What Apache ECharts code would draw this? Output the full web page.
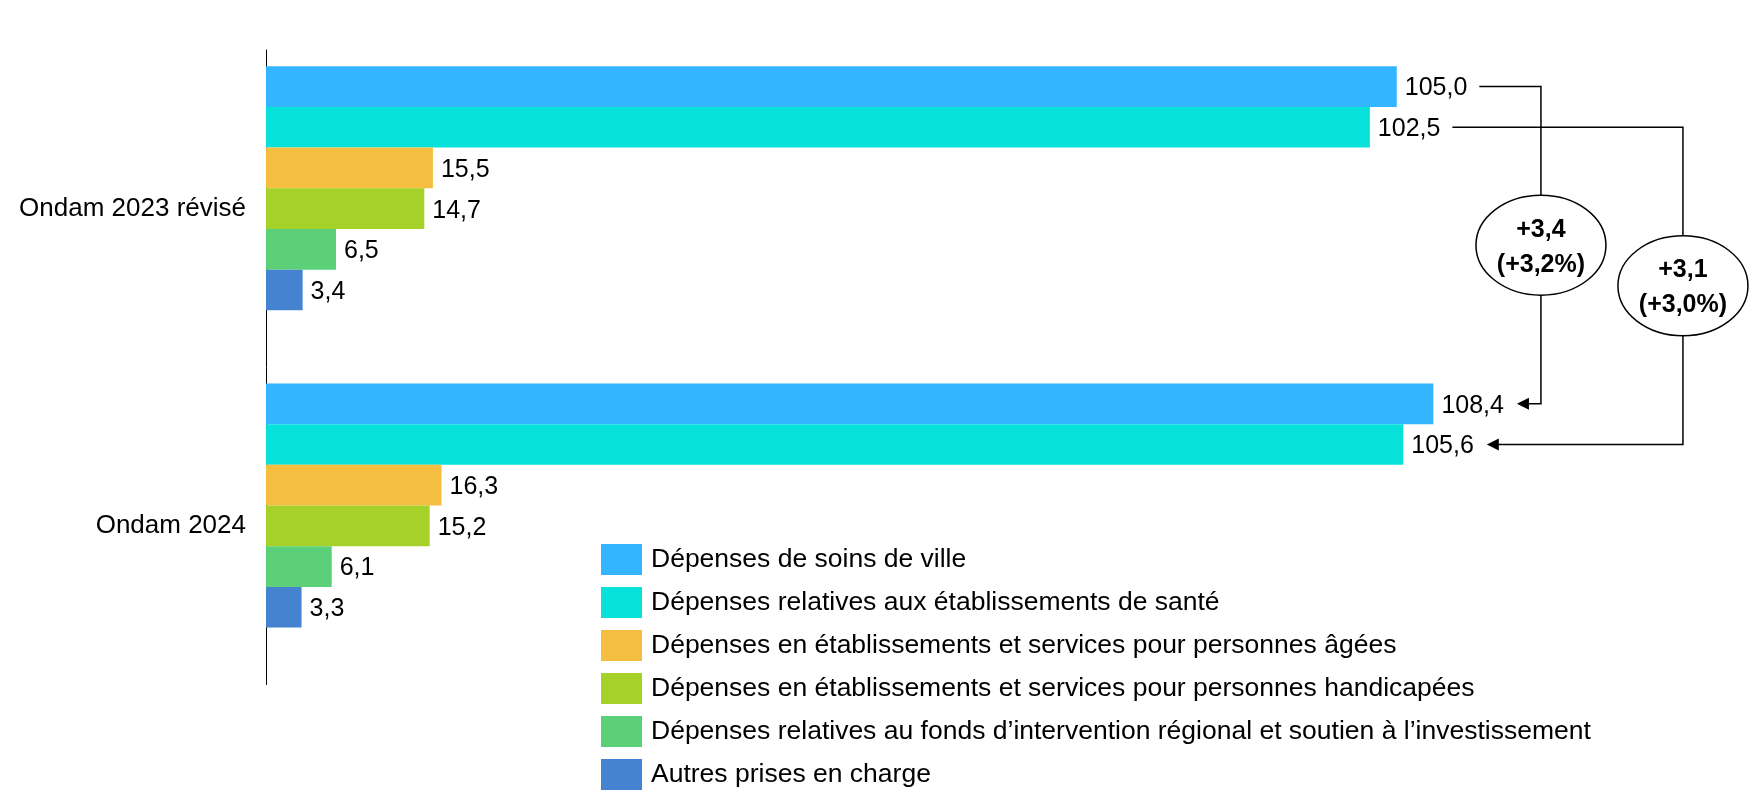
<!DOCTYPE html>
<html>
<head>
<meta charset="utf-8">
<script src="https://cdn.jsdelivr.net/npm/echarts@6/dist/echarts.min.js"></script>
<style>
html,body{margin:0;padding:0;background:#fff;}
#chart{width:1751px;height:812px;}
</style>
</head>
<body>
<div id="chart"></div>
<script>
const categories = ['Ondam 2023 révisé', 'Ondam 2024'];
const seriesNames = [
  'Dépenses de soins de ville',
  'Dépenses relatives aux établissements de santé',
  'Dépenses en établissements et services pour personnes âgées',
  'Dépenses en établissements et services pour personnes handicapées',
  'Dépenses relatives au fonds d’intervention régional et soutien à l’investissement',
  'Autres prises en charge'
];
const soinsVille = [105.0, 108.4];
const etabSante = [102.5, 105.6];
const personnesAgees = [15.5, 16.3];
const personnesHandicapees = [14.7, 15.2];
const fir = [6.5, 6.1];
const autres = [3.4, 3.3];
const changeAbs = ['+3,4', '+3,1'];
const changePct = ['(+3,2%)', '(+3,0%)'];

const colors = ['#33B5FF', '#06E2DA', '#F4BF40', '#A5D129', '#5BD078', '#4582CF'];
const values = [soinsVille, etabSante, personnesAgees, personnesHandicapees, fir, autres];
const FONT = '"Liberation Sans", Arial, sans-serif';
const FS = 25;

const chart = echarts.init(document.getElementById('chart'), null, {renderer: 'canvas'});
const fmt = v => v.toFixed(1).replace('.', ',');

const series = values.map((arr, i) => ({
  name: seriesNames[i],
  type: 'bar',
  data: arr,
  barGap: '0%',
  barCategoryGap: '10.2%',
  itemStyle: {color: colors[i]},
  label: {
    show: true, position: 'right', distance: 8, offset: [0, 2],
    formatter: p => fmt(p.value),
    color: '#000', fontSize: FS, fontFamily: FONT
  }
}));
// empty slot kept below the six bars in each group (as in the original layout)
series.push({name: '_slot', type: 'bar', data: [null, null], silent: true, barGap: '0%', barCategoryGap: '10.2%'});

chart.setOption({
  animation: false,
  backgroundColor: '#fff',
  textStyle: {fontFamily: FONT},
  grid: {left: 266, right: 85, top: 50, bottom: 127.5, containLabel: false},
  xAxis: {type: 'value', min: 0, max: 130, show: false},
  yAxis: {
    type: 'category', data: categories, inverse: true,
    axisLine: {show: true, lineStyle: {color: '#000', width: 1}},
    axisTick: {show: false},
    axisLabel: {color: '#000', fontSize: 26, fontFamily: FONT, margin: 20, padding: [4, 0, 0, 0]}
  },
  legend: {
    data: seriesNames, orient: 'vertical', left: 601, top: 544, padding: 0,
    icon: 'rect', itemWidth: 41, itemHeight: 31, itemGap: 12,
    textStyle: {color: '#000', fontSize: 26.5, fontFamily: FONT, padding: [2, 0, 0, 4]}
  },
  series: series
});

// annotations computed from the library's layout
const cnv = document.createElement('canvas').getContext('2d');
cnv.font = FS + 'px ' + FONT;
const tw = t => cnv.measureText(t).width;
const model = chart.getModel();
function barRect(si, ci) {
  return model.getSeriesByIndex(si).getData().getItemLayout(ci);
}
function labelEnd(si, ci) {
  const r = barRect(si, ci);
  return r.x + r.width + 8 + tw(fmt(values[si][ci]));
}
function centerY(si, ci) {
  const r = barRect(si, ci);
  return r.y + r.height / 2;
}
const graphics = [];
const stroke = {stroke: '#000', lineWidth: 1.5, fill: null};
const RX = 65, RY = 50;
let vx0 = null;
[0, 1].forEach(si => {
  const y0 = centerY(si, 0), y1 = centerY(si, 1);
  const sx = labelEnd(si, 0) + 12;
  const tip = labelEnd(si, 1) + 13;
  if (vx0 === null) vx0 = labelEnd(0, 1) + 13 + 24;
  const vx = vx0 + si * 142;
  const my = (y0 + y1) / 2;
  graphics.push({type: 'polyline', shape: {points: [[sx, y0], [vx, y0], [vx, my - RY]]}, style: stroke, z: 10});
  graphics.push({type: 'polyline', shape: {points: [[vx, my + RY], [vx, y1], [tip + 10, y1]]}, style: stroke, z: 10});
  graphics.push({type: 'polygon', shape: {points: [[tip, y1], [tip + 12, y1 - 6], [tip + 12, y1 + 6]]}, style: {fill: '#000'}, z: 10});
  graphics.push({type: 'ellipse', shape: {cx: vx, cy: my, rx: RX, ry: RY}, style: {fill: '#fff', stroke: '#000', lineWidth: 1.5}, z: 11});
  graphics.push({type: 'text', x: vx, y: my + 2, z: 12, style: {
    text: changeAbs[si] + '\n' + changePct[si], fill: '#000',
    font: 'bold ' + FS + 'px ' + FONT, align: 'center', verticalAlign: 'middle', lineHeight: 35
  }});
});
chart.setOption({graphic: {elements: graphics}});
</script>
</body>
</html>
